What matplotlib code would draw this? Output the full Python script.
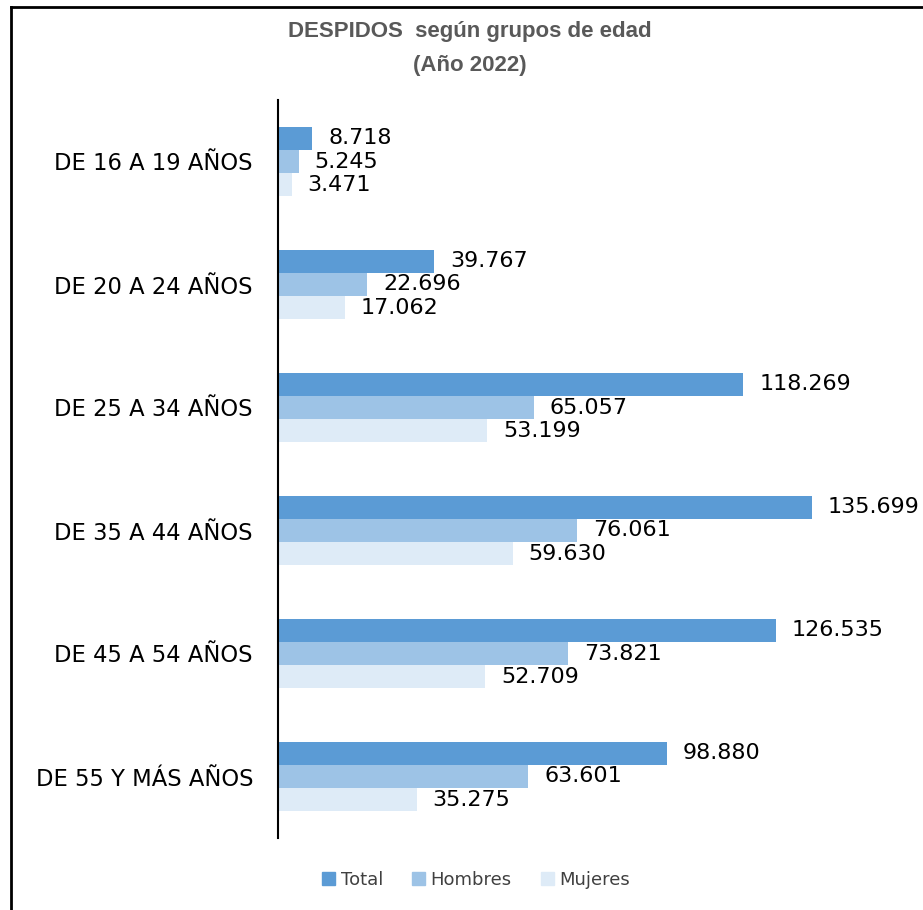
import matplotlib.pyplot as plt
from matplotlib.lines import Line2D
import numpy as np

# Datos: despidos por grupo de edad (año 2022)
grupos = ['DE 16 A 19 AÑOS', 'DE 20 A 24 AÑOS', 'DE 25 A 34 AÑOS',
          'DE 35 A 44 AÑOS', 'DE 45 A 54 AÑOS', 'DE 55 Y MÁS AÑOS']
total = [8.718, 39.767, 118.269, 135.699, 126.535, 98.880]
hombres = [5.245, 22.696, 65.057, 76.061, 73.821, 63.601]
mujeres = [3.471, 17.062, 53.199, 59.630, 52.709, 35.275]

series = [('Total', total, '#5B9BD5'),
          ('Hombres', hombres, '#9DC3E6'),
          ('Mujeres', mujeres, '#DEEBF7')]

plt.rcParams['font.family'] = ['DejaVu Sans']

fig = plt.figure(figsize=(9.23, 9.10), dpi=100)
ax = fig.add_axes([278 / 923, 72 / 910, 645 / 923, 738 / 910])

y = np.arange(len(grupos))
h = 0.187
for i, (name, vals, col) in enumerate(series):
    pos = y + (i - 1) * h
    ax.barh(pos, vals, height=h, color=col, label=name)
    for p, v in zip(pos, vals):
        ax.text(v + 4.0, p, f'{v:.3f}', va='center', ha='left',
                fontsize=16, color='black')

ax.set_xlim(0, 645 / 3.935)
ax.set_ylim(len(grupos) - 0.5, -0.5)
ax.set_yticks(y)
ax.set_yticklabels(grupos, fontsize=16.3)
ax.tick_params(axis='y', length=0, pad=18)
ax.set_xticks([])
for s in ['top', 'right', 'bottom']:
    ax.spines[s].set_visible(False)
ax.spines['left'].set_linewidth(1.5)

fig.text(470 / 923, 1 - 31 / 910, 'DESPIDOS  según grupos de edad', ha='center',
         va='center', fontsize=16, fontweight='bold', color='#595959',
         family='Liberation Sans')
fig.text(470 / 923, 1 - 65 / 910, '(Año 2022)', ha='center',
         va='center', fontsize=16, fontweight='bold', color='#595959',
         family='Liberation Sans')

handles = [plt.Rectangle((0, 0), 1, 1, color=c) for _, _, c in series]
fig.legend(handles, [n for n, _, _ in series], loc='center',
           bbox_to_anchor=(476 / 923, 1 - 880 / 910), ncol=3, frameon=False,
           fontsize=13, handlelength=0.75, handleheight=0.75, handletextpad=0.3,
           columnspacing=1.6, labelcolor='#404040')

# marco del gráfico
fig.add_artist(Line2D([11 / 923, 11 / 923], [0, 1 - 7 / 910], color='black', lw=2))
fig.add_artist(Line2D([11 / 923, 1], [1 - 7 / 910, 1 - 7 / 910], color='black', lw=2))

fig.savefig('out.png', dpi=100)
